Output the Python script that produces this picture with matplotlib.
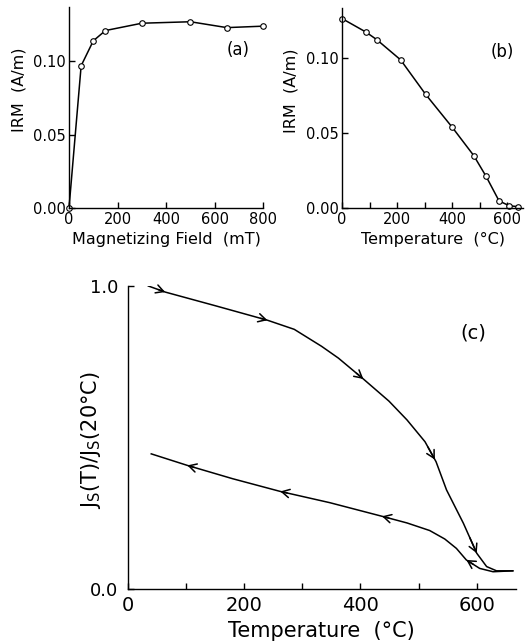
import numpy as np
import matplotlib
matplotlib.use("Agg")
import matplotlib.pyplot as plt

plt.rcParams["font.family"] = ["DejaVu Sans"]

# (a) IRM acquisition
field_mT = [0, 50, 100, 150, 300, 500, 650, 800]
irm_acq = [0.0, 0.097, 0.114, 0.121, 0.126, 0.127, 0.123, 0.124]

# (b) thermal demagnetization of IRM
temp_b = [0, 87, 126, 213, 304, 401, 479, 524, 571, 608, 639]
irm_demag = [0.126, 0.117, 0.112, 0.0985, 0.0755, 0.0535, 0.0347, 0.0208, 0.0045, 0.0013, 0.0007]

# (c) Js(T)/Js(20C) heating and cooling curves
heat_T = [35, 64, 150, 240, 286, 333, 362, 405, 449, 480, 511, 530, 548, 577, 600, 617, 634, 662]
heat_J = [1.0, 0.98, 0.935, 0.887, 0.857, 0.801, 0.762, 0.693, 0.62, 0.558, 0.486, 0.42, 0.327, 0.217,
          0.118, 0.074, 0.060, 0.060]
cool_T = [40, 102, 180, 262, 347, 437, 480, 519, 545, 565, 582, 605, 628, 662]
cool_J = [0.446, 0.408, 0.364, 0.322, 0.285, 0.240, 0.218, 0.193, 0.165, 0.134, 0.096, 0.068, 0.057, 0.060]
heat_arrows = [64, 240, 405, 528, 600]
cool_arrows = [102, 262, 437, 582]

fig = plt.figure(figsize=(5.3, 6.44), dpi=100)

def style(ax, fs, xpad, ypad):
    for s in ["top", "right"]:
        ax.spines[s].set_visible(False)
    for s in ["left", "bottom"]:
        ax.spines[s].set_linewidth(1.0)
    ax.tick_params(direction="in", length=4, width=1, labelsize=fs)
    ax.tick_params(axis="x", pad=xpad)
    ax.tick_params(axis="y", pad=ypad)

# panel a
ax1 = fig.add_axes([0.1302, 0.677, 0.3666, 0.312])
ax1.plot(field_mT, irm_acq, "-o", color="black", lw=1.1, ms=4, mfc="white", mec="black", mew=0.8, clip_on=False)
ax1.set_xlim(0, 800)
ax1.set_ylim(0, 0.137)
ax1.set_xticks([0, 200, 400, 600, 800])
ax1.set_yticks([0, 0.05, 0.10])
ax1.set_yticklabels(["0.00", "0.05", "0.10"])
style(ax1, 10.5, 3, 2)
ax1.set_xlabel("Magnetizing Field  (mT)", fontsize=11.5)
ax1.set_ylabel("IRM  (A/m)", fontsize=11.5)
ax1.xaxis.set_label_coords(0.5, -0.12)
ax1.yaxis.set_label_coords(-0.22, 0.587)
ax1.text(695, 0.1075, "(a)", fontsize=12, ha="center", va="center")

# panel b
ax2 = fig.add_axes([0.6453, 0.6775, 0.3415, 0.310])
ax2.plot(temp_b, irm_demag, "-o", color="black", lw=1.1, ms=4, mfc="white", mec="black", mew=0.8, clip_on=False)
ax2.set_xlim(0, 658)
ax2.set_ylim(0, 0.133)
ax2.set_xticks(np.arange(0, 700, 100))
ax2.set_xticklabels(["0", "", "200", "", "400", "", "600"])
ax2.set_yticks([0, 0.05, 0.10])
ax2.set_yticklabels(["0.00", "0.05", "0.10"])
style(ax2, 10.5, 3, 2)
ax2.set_xlabel("Temperature  (°C)", fontsize=11.5)
ax2.set_ylabel("IRM  (A/m)", fontsize=11.5)
ax2.xaxis.set_label_coords(0.5, -0.12)
ax2.yaxis.set_label_coords(-0.243, 0.585)
ax2.text(584, 0.1036, "(b)", fontsize=12, ha="center", va="center")

# panel c
ax3 = fig.add_axes([0.2415, 0.0854, 0.7315, 0.4705])
ax3.plot(heat_T, heat_J, color="black", lw=1.1)
ax3.plot(cool_T, cool_J, color="black", lw=1.1)
ax3.set_xlim(0, 667)
ax3.set_ylim(0, 1.0)
ax3.set_xticks(np.arange(0, 700, 100))
ax3.set_xticklabels(["0", "", "200", "", "400", "", "600"])
ax3.set_yticks([0, 1.0])
ax3.set_yticklabels(["0.0", "1.0"])
style(ax3, 14, 5, 7)
ax3.tick_params(axis="y", labelsize=13)
ax3.set_xlabel("Temperature  (°C)", fontsize=15)
ax3.set_ylabel(r"J$_\mathrm{S}$(T)/J$_\mathrm{S}$(20°C)", fontsize=15)
ax3.xaxis.set_label_coords(0.5, -0.105)
ax3.yaxis.set_label_coords(-0.064, 0.49)
ax3.text(594, 0.846, "(c)", fontsize=14, ha="center", va="center")

arrow_kw = dict(arrowstyle="->,head_length=0.55,head_width=0.3", color="black", lw=1.1,
                shrinkA=0, shrinkB=0)
for t in heat_arrows:
    t0 = t - 12
    ax3.annotate("", xy=(t, np.interp(t, heat_T, heat_J)),
                 xytext=(t0, np.interp(t0, heat_T, heat_J)), arrowprops=arrow_kw)
for t in cool_arrows:
    t0 = t + 12
    ax3.annotate("", xy=(t, np.interp(t, cool_T, cool_J)),
                 xytext=(t0, np.interp(t0, cool_T, cool_J)), arrowprops=arrow_kw)

fig.savefig("out.png", dpi=100)
